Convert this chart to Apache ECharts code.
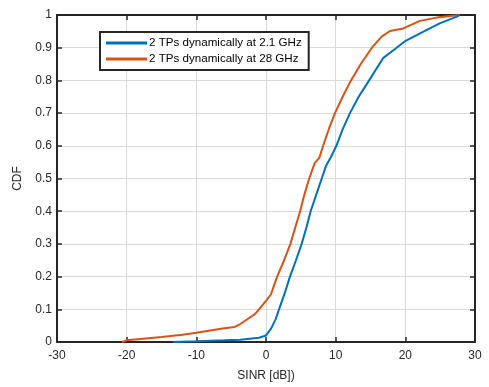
<!DOCTYPE html>
<html>
<head>
<meta charset="utf-8">
<script src="https://cdn.jsdelivr.net/npm/echarts@6/dist/echarts.min.js"></script>
<style>
html,body{margin:0;padding:0;background:#fff;}
#chart{width:489px;height:387px;}
</style>
</head>
<body>
<div id="chart"></div>
<script>
var seriesNames = ['2 TPs dynamically at 2.1 GHz', '2 TPs dynamically at 28 GHz'];
var xTicks = [-30, -20, -10, 0, 10, 20, 30];
var yTicks = [0, 0.1, 0.2, 0.3, 0.4, 0.5, 0.6, 0.7, 0.8, 0.9, 1];

// SINR (dB) and CDF values
var sinr21 = [-13.3, -10, -6, -3.7, -1, 0, 0.7, 1.4, 1.87, 2.7, 3.44, 4.3, 5.12, 5.8, 6.41, 7.2, 8.0, 8.6, 9.3, 10.1, 11, 12.05, 13.3, 14.8, 16.8, 18.75, 19.9, 22.6, 25, 27.4, 27.8];
var cdf21  = [0, 0.002, 0.005, 0.007, 0.013, 0.02, 0.04, 0.07, 0.1, 0.15, 0.2, 0.25, 0.3, 0.35, 0.4, 0.45, 0.5, 0.538, 0.565, 0.6, 0.65, 0.7, 0.75, 0.8, 0.868, 0.9, 0.919, 0.949, 0.975, 0.995, 1.0];

var sinr28 = [-20.7, -20, -18, -15, -12, -10, -8, -6, -4.5, -3.7, -3, -1.6, -1, 0, 0.72, 1.1, 1.6, 2.6, 3.5, 4.2, 4.9, 5.5, 6.2, 7.0, 7.65, 8.2, 9, 9.9, 11, 12.2, 13.6, 15.2, 16.6, 17.8, 19.7, 22.1, 24.5, 27.8];
var cdf28  = [0, 0.005, 0.009, 0.015, 0.022, 0.028, 0.035, 0.042, 0.046, 0.055, 0.065, 0.085, 0.1, 0.126, 0.146, 0.17, 0.2, 0.25, 0.3, 0.35, 0.4, 0.45, 0.5, 0.548, 0.563, 0.6, 0.65, 0.7, 0.75, 0.8, 0.85, 0.9, 0.934, 0.951, 0.959, 0.982, 0.992, 1.0];

function pairs(xs, ys){ return xs.map(function(x,i){ return [x, ys[i]]; }); }

var FONT = 'Liberation Sans, Arial, sans-serif';
var DARK = '#262626';
var chart = echarts.init(document.getElementById('chart'), null, {renderer:'canvas'});

var boxLine = {show:true, onZero:false, lineStyle:{color:DARK, width:2}};
var boxTick = {show:true, inside:true, length:5, lineStyle:{color:DARK, width:1.5}};

chart.setOption({
  animation:false,
  backgroundColor:'#fff',
  grid:{left:57, right:14, top:15, bottom:44, containLabel:false},
  legend:{
    data:seriesNames,
    orient:'vertical',
    left:100, top:32,
    padding:[5,7,5,6],
    itemGap:4,
    itemWidth:41, itemHeight:3,
    icon:'rect',
    backgroundColor:'#fff',
    borderColor:DARK, borderWidth:2,
    textStyle:{fontFamily:FONT, fontSize:11.6, color:'#000', padding:[0,0,0,-3]}
  },
  xAxis:[{
    type:'value', min:xTicks[0], max:xTicks[xTicks.length-1], interval:10,
    name:'SINR [dB])', nameLocation:'middle', nameGap:28,
    nameTextStyle:{fontFamily:FONT, fontSize:12, color:DARK},
    axisLine:boxLine, axisTick:boxTick,
    axisLabel:{fontFamily:FONT, fontSize:12, color:DARK, margin:8},
    splitLine:{show:true, lineStyle:{color:'#dadada', width:1}}
  },{
    type:'value', position:'top', min:xTicks[0], max:xTicks[xTicks.length-1], interval:10,
    axisLine:boxLine, axisTick:boxTick,
    axisLabel:{show:false}, splitLine:{show:false}
  }],
  yAxis:[{
    type:'value', min:yTicks[0], max:yTicks[yTicks.length-1], interval:0.1,
    name:'CDF', nameLocation:'middle', nameGap:33,
    nameTextStyle:{fontFamily:FONT, fontSize:12, color:DARK},
    axisLine:boxLine, axisTick:boxTick,
    axisLabel:{fontFamily:FONT, fontSize:12, color:DARK, margin:5,
      formatter:function(v){ return String(Math.round(v*10)/10); }},
    splitLine:{show:true, lineStyle:{color:'#dadada', width:1}}
  },{
    type:'value', position:'right', min:yTicks[0], max:yTicks[yTicks.length-1], interval:0.1,
    axisLine:boxLine, axisTick:boxTick,
    axisLabel:{show:false}, splitLine:{show:false}
  }],
  series:[{
    name:seriesNames[0], type:'line', showSymbol:false, symbol:'none',
    data:pairs(sinr21, cdf21),
    lineStyle:{color:'#0072BD', width:2}, itemStyle:{color:'#0072BD'}, z:3
  },{
    name:seriesNames[1], type:'line', showSymbol:false, symbol:'none',
    data:pairs(sinr28, cdf28),
    lineStyle:{color:'#D95319', width:2}, itemStyle:{color:'#D95319'}, z:2
  }]
});
</script>
</body>
</html>
